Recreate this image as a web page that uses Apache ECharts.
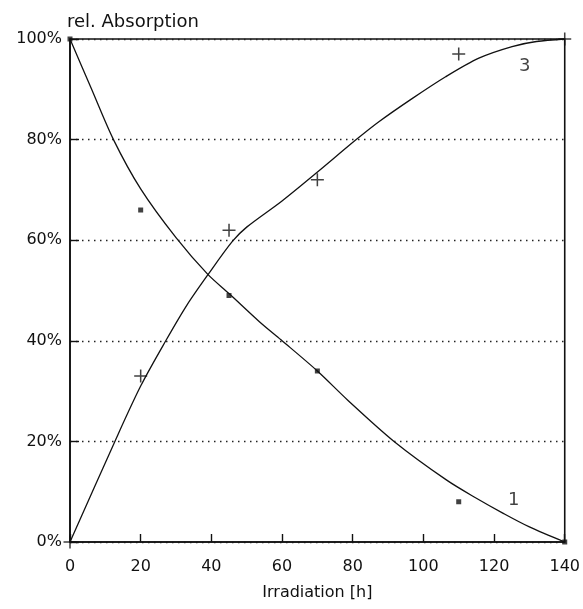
<!DOCTYPE html>
<html>
<head>
<meta charset="utf-8">
<script src="https://cdn.jsdelivr.net/npm/echarts@6/dist/echarts.min.js"></script>
<style>
html,body{margin:0;padding:0;background:#fff;}
#chart{width:583px;height:609px;}
</style>
</head>
<body>
<div id="chart"></div>
<script>
// Fitted curve 1 (decreasing)
const curve1X = [0, 6, 12.3, 20, 30, 39, 45, 53.6, 59.7, 70, 78.6, 91.7, 106.6, 115, 122.6, 130, 140];
const curve1Y = [100, 90.2, 80, 70.2, 60.5, 53.2, 49.4, 43.8, 40.2, 34, 28.2, 20, 12.3, 8.7, 5.7, 3, 0];
// Fitted curve 3 (increasing)
const curve3X = [0, 12.7, 20, 27.1, 33, 39.2, 46, 50, 60, 69.6, 81, 87.5, 96.9, 106.3, 115.7, 125.1, 132, 140];
const curve3Y = [0, 20, 31, 40, 47, 53.3, 59.8, 62.6, 67.8, 73.3, 80, 83.6, 88.2, 92.5, 96.2, 98.5, 99.5, 100];
// Measured points
const dotsX = [0, 20, 45, 70, 110, 140];
const dotsY = [100, 66, 49, 34, 8, 0];
const crossX = [0, 20, 45, 70, 110, 140];
const crossY = [0, 33, 62, 72, 97, 100];
// Curve labels
const curveLabelText = ['1', '3'];
const curveLabelX = [125.6, 128.7];
const curveLabelY = [8.2, 94.6];

const xAxisName = 'Irradiation [h]';
const yAxisName = 'rel. Absorption';

const zip = (xs, ys) => xs.map((x, i) => [x, ys[i]]);
const FONT = 'DejaVu Sans';
const INK = '#111';

const chart = echarts.init(document.getElementById('chart'), null, {renderer: 'canvas'});
chart.setOption({
  animation: false,
  backgroundColor: '#fff',
  grid: {left: 70, right: 17, top: 39, bottom: 67, show: true, borderColor: INK, borderWidth: 1.6, backgroundColor: 'transparent'},
  xAxis: {
    type: 'value', min: 0, max: 140, interval: 20,
    name: xAxisName, nameLocation: 'middle', nameGap: 43,
    nameTextStyle: {fontFamily: FONT, fontSize: 16, color: INK},
    axisLine: {show: true, lineStyle: {color: INK, width: 1.6}},
    axisTick: {show: true, inside: true, length: 8, lineStyle: {color: INK, width: 1.4}},
    axisLabel: {fontFamily: FONT, fontSize: 16, color: INK, margin: 17},
    splitLine: {show: false}
  },
  yAxis: {
    type: 'value', min: 0, max: 100, interval: 20,
    name: yAxisName, nameLocation: 'end', nameGap: 8,
    nameTextStyle: {fontFamily: FONT, fontSize: 18, color: INK, align: 'left', padding: [0, 0, 0, -3]},
    axisLine: {show: true, lineStyle: {color: INK, width: 1.6}},
    axisTick: {show: true, inside: true, length: 9, lineStyle: {color: INK, width: 1.4}},
    axisLabel: {fontFamily: FONT, fontSize: 16, color: INK, margin: 8, formatter: '{value}%'},
    splitLine: {show: true, lineStyle: {color: '#222', width: 1.4, type: [1.5, 4.5]}}
  },
  series: [
    {type: 'line', data: zip(curve1X, curve1Y), smooth: 0.3, showSymbol: false,
     lineStyle: {color: INK, width: 1.3}, z: 3},
    {type: 'line', data: zip(curve3X, curve3Y), smooth: 0.3, showSymbol: false,
     lineStyle: {color: INK, width: 1.3}, z: 3},
    {type: 'scatter', data: zip(dotsX, dotsY), symbol: 'rect', symbolSize: 5,
     itemStyle: {color: INK}, z: 4},
    {type: 'scatter', data: zip(crossX, crossY),
     symbol: 'path://M0,5.3h12v1.4h-12z M5.3,0h1.4v12h-1.4z', symbolSize: 13,
     itemStyle: {color: INK}, z: 4},
    {type: 'scatter', data: curveLabelX.map((x, i) => ({value: [x, curveLabelY[i]], name: curveLabelText[i]})),
     symbolSize: 0, silent: true,
     label: {show: true, position: 'inside', formatter: p => p.name, fontFamily: FONT, fontSize: 18, color: INK}, z: 5}
  ]
});
</script>
</body>
</html>
